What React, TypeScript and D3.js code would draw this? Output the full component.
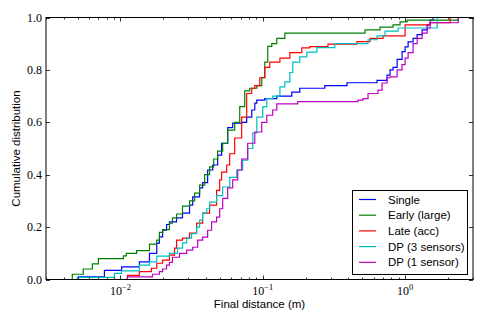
import React, { useEffect, useRef } from 'react';
import * as d3 from 'd3';

// step positions (final distance, m) and cumulative level reached at each step
const singleX = [0.00506, 0.00772, 0.0102, 0.0136, 0.016, 0.018, 0.0188, 0.0198, 0.0211, 0.0221, 0.0248, 0.0273, 0.0306, 0.0322, 0.036, 0.0378, 0.041, 0.0445, 0.0482, 0.0514, 0.0567, 0.0615, 0.0711, 0.0771, 0.0837, 0.0879, 0.0908, 0.1033, 0.1255, 0.16, 0.182, 0.273, 0.391, 0.635, 0.747, 0.784, 0.823, 0.879, 0.952, 1.0, 1.05, 1.138, 1.215, 1.318, 1.428, 1.5, 1.574];
const singleY = [0.01, 0.035, 0.048, 0.067, 0.10, 0.139, 0.163, 0.188, 0.21, 0.22, 0.235, 0.253, 0.284, 0.315, 0.35, 0.37, 0.418, 0.437, 0.475, 0.52, 0.58, 0.597, 0.60, 0.62, 0.647, 0.673, 0.685, 0.69, 0.70, 0.715, 0.73, 0.74, 0.751, 0.76, 0.78, 0.80, 0.81, 0.84, 0.87, 0.888, 0.907, 0.92, 0.935, 0.953, 0.972, 0.99, 1.0];

const earlyX = [0.00459, 0.00548, 0.00635, 0.0070, 0.0105, 0.011, 0.013, 0.016, 0.018, 0.0188, 0.0198, 0.0221, 0.0232, 0.0248, 0.0273, 0.0306, 0.0332, 0.036, 0.0391, 0.0423, 0.0452, 0.0482, 0.0523, 0.0567, 0.0635, 0.0689, 0.0747, 0.081, 0.0908, 0.0984, 0.1033, 0.1084, 0.1157, 0.1255, 0.143, 0.523, 0.667, 0.823, 0.922, 1.033, 2.36];
const earlyY = [0.02, 0.04, 0.06, 0.08, 0.09, 0.10, 0.11, 0.135, 0.15, 0.18, 0.19, 0.215, 0.235, 0.25, 0.28, 0.30, 0.33, 0.36, 0.40, 0.43, 0.46, 0.49, 0.52, 0.57, 0.60, 0.66, 0.72, 0.73, 0.74, 0.77, 0.83, 0.89, 0.90, 0.92, 0.94, 0.953, 0.963, 0.972, 0.983, 0.99, 1.0];

const lateX = [0.0112, 0.0136, 0.0165, 0.018, 0.0198, 0.0221, 0.024, 0.0248, 0.0273, 0.0306, 0.0343, 0.0378, 0.0423, 0.0474, 0.0498, 0.0514, 0.0558, 0.0586, 0.0635, 0.0711, 0.0771, 0.0837, 0.0879, 0.0953, 0.1033, 0.112, 0.132, 0.155, 0.188, 0.214, 0.287, 0.459, 0.567, 0.70, 1.0, 1.5, 2.07];
const lateY = [0.016, 0.03, 0.043, 0.062, 0.074, 0.093, 0.12, 0.15, 0.158, 0.177, 0.215, 0.253, 0.284, 0.34, 0.38, 0.41, 0.437, 0.48, 0.54, 0.62, 0.71, 0.73, 0.74, 0.77, 0.81, 0.83, 0.845, 0.866, 0.884, 0.889, 0.898, 0.908, 0.92, 0.93, 0.972, 0.98, 1.0];

const dp3X = [0.00498, 0.00908, 0.01017, 0.0136, 0.016, 0.018, 0.0221, 0.0252, 0.0273, 0.0292, 0.0316, 0.0343, 0.036, 0.0378, 0.0404, 0.0423, 0.0474, 0.0523, 0.0586, 0.0656, 0.0723, 0.0784, 0.0851, 0.0908, 0.1, 0.1067, 0.1175, 0.132, 0.143, 0.155, 0.1626, 0.182, 0.204, 0.24, 0.321, 0.549, 0.635, 0.723, 0.893, 1.68];
const dp3Y = [0.008, 0.023, 0.033, 0.055, 0.067, 0.089, 0.10, 0.12, 0.14, 0.158, 0.175, 0.20, 0.227, 0.253, 0.27, 0.295, 0.32, 0.353, 0.39, 0.418, 0.456, 0.50, 0.56, 0.62, 0.66, 0.69, 0.70, 0.735, 0.754, 0.79, 0.83, 0.85, 0.868, 0.885, 0.90, 0.915, 0.93, 0.948, 0.96, 1.0];

const dp1X = [0.0112, 0.0168, 0.0188, 0.0198, 0.0211, 0.0221, 0.0232, 0.026, 0.0292, 0.0322, 0.0349, 0.0378, 0.041, 0.0437, 0.0474, 0.0498, 0.0523, 0.0567, 0.0615, 0.0667, 0.0711, 0.0784, 0.0879, 0.0984, 0.1067, 0.1175, 0.1255, 0.176, 0.467, 0.506, 0.549, 0.645, 0.689, 0.747, 0.784, 0.879, 0.952, 1.0, 1.05, 1.138, 1.215, 1.318, 1.428, 1.5, 2.36];
const dp1Y = [0.01, 0.02, 0.03, 0.04, 0.055, 0.065, 0.085, 0.10, 0.112, 0.123, 0.15, 0.162, 0.188, 0.22, 0.238, 0.27, 0.31, 0.35, 0.38, 0.418, 0.46, 0.52, 0.563, 0.60, 0.627, 0.647, 0.67, 0.679, 0.685, 0.69, 0.71, 0.723, 0.75, 0.77, 0.773, 0.80, 0.82, 0.845, 0.866, 0.90, 0.92, 0.94, 0.96, 0.98, 1.0];

const seriesNames = ['Single', 'Early (large)', 'Late (acc)', 'DP (3 sensors)', 'DP (1 sensor)'];
const seriesColors = ['#0000ff', '#008000', '#ff0000', '#00bfbf', '#bf00bf'];
const yTicks = [0, 0.2, 0.4, 0.6, 0.8, 1.0];
const xMajor = [1e-2, 1e-1, 1e0];
const xExponents = ['\u22122', '\u22121', '0'];

function App() {
  const ref = useRef(null);

  useEffect(() => {
    document.body.style.margin = '0';
    const allX = [singleX, earlyX, lateX, dp3X, dp1X];
    const allY = [singleY, earlyY, lateY, dp3Y, dp1Y];

    const left = 46, right = 473, top = 17.5, bottom = 279.5;
    const svg = d3.select(ref.current);
    svg.selectAll('*').remove();

    const x = d3.scaleLog().domain([3e-3, 3]).range([left, right]);
    const y = d3.scaleLinear().domain([0, 1]).range([bottom, top]);

    svg.append('clipPath').attr('id', 'plotclip')
      .append('rect').attr('x', left).attr('y', top - 1).attr('width', right - left).attr('height', bottom - top + 2);

    const line = d3.line()
      .x(d => x(d[0]))
      .y(d => y(d[1]))
      .curve(d3.curveStepAfter);

    const g = svg.append('g').attr('clip-path', 'url(#plotclip)');
    allX.forEach((xs, i) => {
      const pts = [[xs[0], 0]].concat(xs.map((v, j) => [v, allY[i][j]]));
      g.append('path')
        .attr('d', line(pts))
        .attr('fill', 'none')
        .attr('stroke', seriesColors[i])
        .attr('stroke-width', 1.2);
    });

    // ticks (inward, all four sides)
    const minor = [];
    for (let k = -3; k <= 0; k++) {
      for (let m = 2; m <= 9; m++) {
        const v = m * Math.pow(10, k);
        if (v >= 3e-3 && v <= 3) minor.push(v);
      }
    }
    const tk = svg.append('g').attr('stroke', '#000').attr('stroke-width', 0.8);
    minor.forEach(v => {
      const px = Math.round(x(v)) + 0.5;
      tk.append('line').attr('x1', px).attr('x2', px).attr('y1', bottom).attr('y2', bottom - 2);
      tk.append('line').attr('x1', px).attr('x2', px).attr('y1', top).attr('y2', top + 2);
    });
    xMajor.forEach(v => {
      const px = Math.round(x(v)) + 0.5;
      tk.append('line').attr('x1', px).attr('x2', px).attr('y1', bottom).attr('y2', bottom - 4);
      tk.append('line').attr('x1', px).attr('x2', px).attr('y1', top).attr('y2', top + 4);
    });
    yTicks.forEach(v => {
      const py = Math.round(y(v)) + 0.5;
      tk.append('line').attr('x1', left).attr('x2', left + 4).attr('y1', py).attr('y2', py);
      tk.append('line').attr('x1', right).attr('x2', right - 4).attr('y1', py).attr('y2', py);
    });

    svg.append('rect')
      .attr('x', left).attr('y', top).attr('width', right - left).attr('height', bottom - top)
      .attr('fill', 'none').attr('stroke', '#000').attr('stroke-width', 1);

    // tick labels
    const serif = 'Liberation Serif, DejaVu Serif, serif';
    yTicks.forEach(v => {
      svg.append('text')
        .attr('x', left - 4).attr('y', y(v) + 4)
        .attr('text-anchor', 'end')
        .attr('font-family', serif).attr('font-size', 12)
        .text(v.toFixed(1));
    });
    xMajor.forEach((v, i) => {
      const t = svg.append('text')
        .attr('x', x(v)).attr('y', bottom + 15)
        .attr('text-anchor', 'middle')
        .attr('font-family', serif).attr('font-size', 12);
      t.append('tspan').text('10');
      t.append('tspan').attr('dy', -5).attr('font-size', 8.5).text(xExponents[i]);
    });

    const sans = 'Liberation Sans, Arial, sans-serif';
    svg.append('text')
      .attr('x', (left + right) / 2).attr('y', bottom + 28)
      .attr('text-anchor', 'middle')
      .attr('font-family', sans).attr('font-size', 11.5)
      .text('Final distance (m)');
    svg.append('text')
      .attr('transform', `translate(20, ${(top + bottom) / 2}) rotate(-90)`)
      .attr('text-anchor', 'middle')
      .attr('font-family', sans).attr('font-size', 11.5)
      .text('Cumulative distribution');

    // legend
    const lg = svg.append('g');
    lg.append('rect')
      .attr('x', 352.5).attr('y', 190.5).attr('width', 115).attr('height', 84)
      .attr('fill', '#fff').attr('stroke', '#000').attr('stroke-width', 1);
    seriesNames.forEach((name, i) => {
      const ry = 199.5 + i * 15.7;
      lg.append('line')
        .attr('x1', 359).attr('x2', 376).attr('y1', ry).attr('y2', ry)
        .attr('stroke', seriesColors[i]).attr('stroke-width', 1.2);
      lg.append('text')
        .attr('x', 388).attr('y', ry + 4)
        .attr('font-family', sans).attr('font-size', 11.5)
        .text(name);
    });
  }, []);

  return <svg ref={ref} width={485} height={323} style={{ display: 'block', background: '#fff' }} />;
}

export default App;
